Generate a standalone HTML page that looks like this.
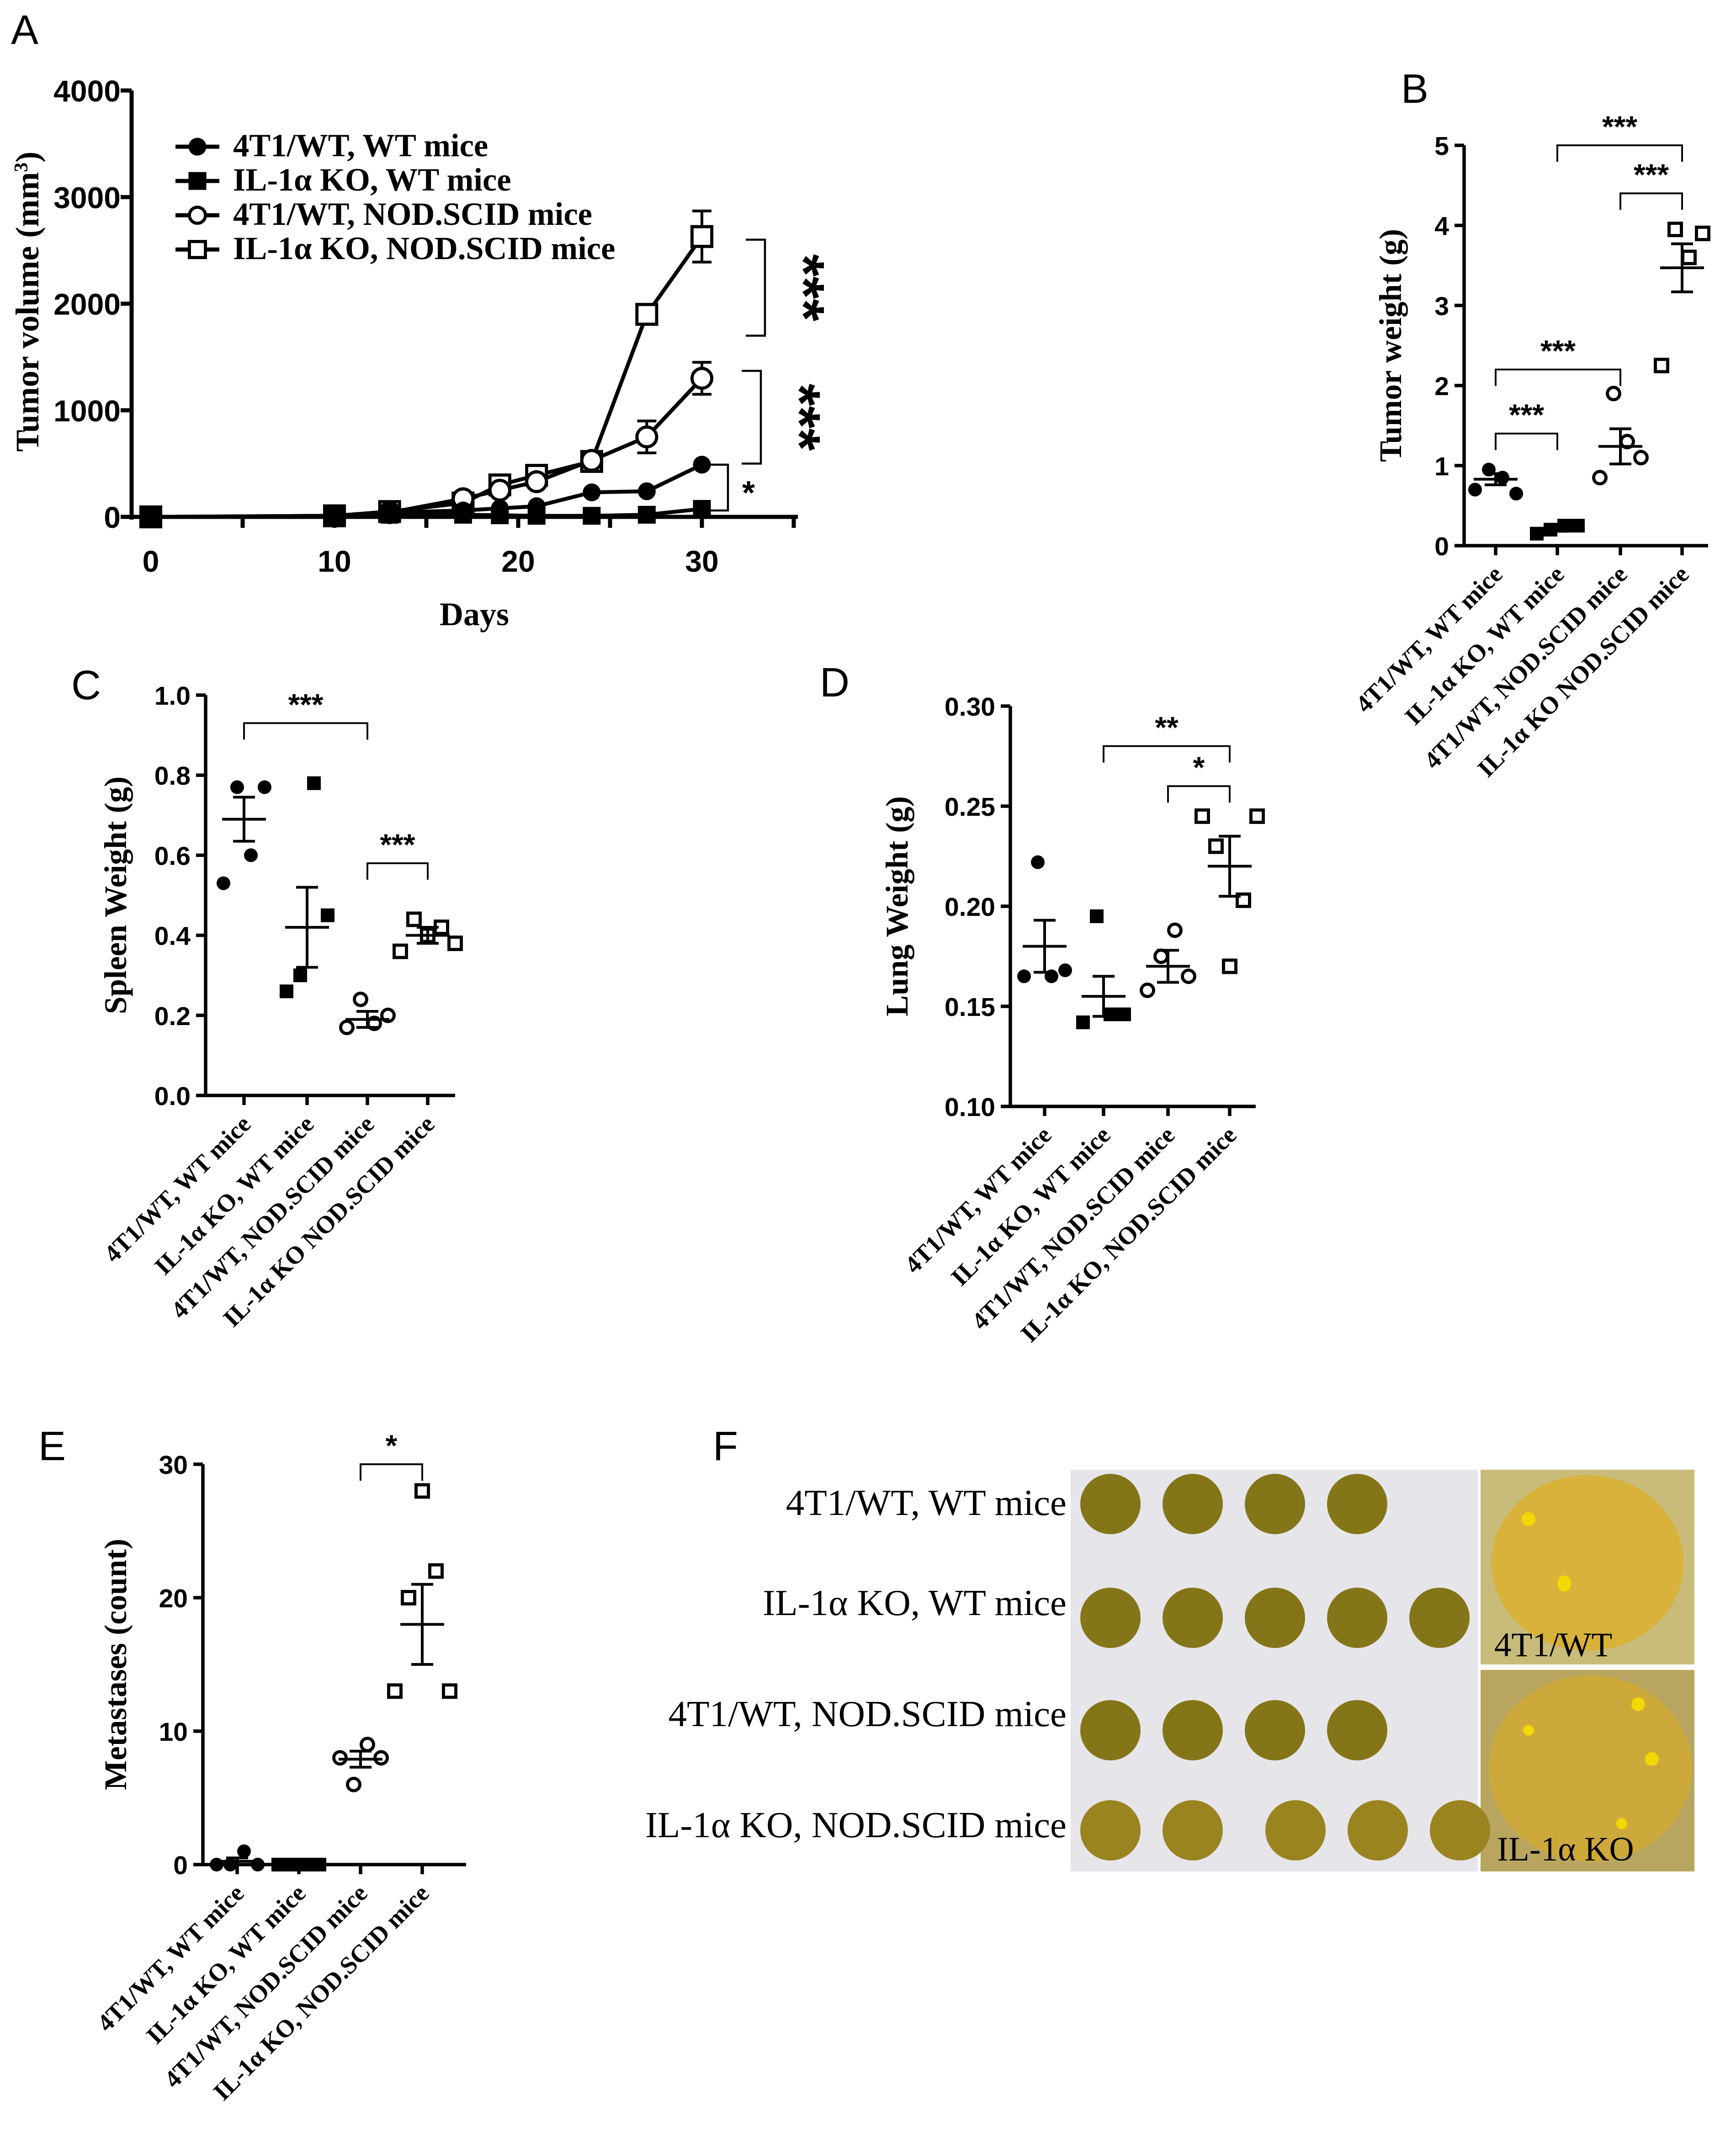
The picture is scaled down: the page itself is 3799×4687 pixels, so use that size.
<!DOCTYPE html>
<html><head><meta charset="utf-8">
<style>
html,body{margin:0;padding:0;background:#fff;}
svg{display:block;}
.tk{font-family:"Liberation Sans",sans-serif;font-weight:bold;fill:#000;}
.lb{font-family:"Liberation Serif",serif;font-weight:bold;fill:#000;}
.pl{font-family:"Liberation Sans",sans-serif;font-size:30px;fill:#000;}
.cat{font-family:"Liberation Serif",serif;font-weight:bold;font-size:18px;fill:#000;}
.st{font-family:"Liberation Sans",sans-serif;font-weight:bold;fill:#000;}
.fl{font-family:"Liberation Serif",serif;fill:#000;}
</style></head>
<body>
<svg id="fig" width="3799" height="4687" viewBox="0 0 1266.33 1562.33" xmlns="http://www.w3.org/2000/svg">
<rect width="1266.33" height="1562.33" fill="#fff"/>
<text class="pl" x="8" y="32">A</text>
<text class="pl" x="1022" y="75">B</text>
<text class="pl" x="52" y="510">C</text>
<text class="pl" x="598" y="508">D</text>
<text class="pl" x="28" y="1065">E</text>
<text class="pl" x="520" y="1065">F</text>
<g id="gA"></g>
<g id="gB"></g>
<g id="gC"></g>
<g id="gD"></g>
<g id="gE"></g>
<g id="gF">
  <text class="fl" style="font-size:27px" x="778" y="1105" text-anchor="end">4T1/WT, WT mice</text>
  <text class="fl" style="font-size:27px" x="778" y="1178" text-anchor="end">IL-1α KO, WT mice</text>
  <text class="fl" style="font-size:27px" x="778" y="1259" text-anchor="end">4T1/WT, NOD.SCID mice</text>
  <text class="fl" style="font-size:27px" x="778" y="1340" text-anchor="end">IL-1α KO, NOD.SCID mice</text>
  <rect x="781" y="1072" width="297" height="293" fill="#e6e6ea"/>
  <rect x="1080" y="1072" width="156" height="142" fill="#c9bb7a"/>
  <ellipse cx="1158" cy="1140" rx="70" ry="64" fill="#d8b23a"/>
  <ellipse cx="1115" cy="1108" rx="5" ry="5" fill="#f3d800"/>
  <ellipse cx="1141" cy="1155" rx="5" ry="6" fill="#f3d800"/>
  <text class="fl" style="font-size:25px" x="1090" y="1208">4T1/WT</text>
  <rect x="1080" y="1218" width="156" height="147" fill="#b8a660"/>
  <ellipse cx="1160" cy="1290" rx="74" ry="68" fill="#cda93c"/>
  <circle cx="1195" cy="1243" r="5" fill="#f3d800"/><circle cx="1115" cy="1262" r="4" fill="#f3d800"/><circle cx="1205" cy="1283" r="5" fill="#f3d800"/><circle cx="1183" cy="1330" r="4" fill="#f3d800"/>
  <text class="fl" style="font-size:25px" x="1092" y="1357">IL-1α KO</text>
  <g id="lungs"></g>
</g>
</svg>
<script>
// ---------- Panel A data ----------
const daysA = [0,10,13,17,19,21,24,27,30];
const wtWT = [0,10,40,60,80,100,230,240,490];
const koWT = [0,5,20,20,15,10,10,20,75];
const wtNOD = [0,10,40,170,250,330,530,750,1300];
const koNOD = [0,10,50,130,300,390,520,1900,2630];
const errNOD = [0,0,0,0,0,0,0,150,150];
const errKONOD = [0,0,0,0,0,0,0,0,240];
const yTicksA = [0,1000,2000,3000,4000];
const xTicksA = [0,10,20,30];
const legendA = ["4T1/WT, WT mice","IL-1α KO, WT mice","4T1/WT, NOD.SCID mice","IL-1α KO, NOD.SCID mice"];

// ---------- Scatter panels data ----------
const cats = ["4T1/WT, WT mice","IL-1α KO, WT mice","4T1/WT, NOD.SCID mice","IL-1α KO NOD.SCID mice"];
const catsD = ["4T1/WT, WT mice","IL-1α KO, WT mice","4T1/WT, NOD.SCID mice","IL-1α KO, NOD.SCID mice"];
const tumorW = [[0.7,0.95,0.85,0.65],[0.15,0.2,0.25,0.25],[0.85,1.9,1.3,1.1],[2.25,3.95,3.6,3.9]];
const tumorMean = [0.83,0.21,1.24,3.47];
const tumorSem = [0.07,0.03,0.22,0.3];
const spleenW = [[0.53,0.77,0.6,0.77],[0.26,0.3,0.78,0.45],[0.17,0.24,0.18,0.2],[0.36,0.44,0.4,0.42,0.38]];
const spleenMean = [0.69,0.42,0.19,0.40];
const spleenSem = [0.055,0.1,0.02,0.02];
const lungW = [[0.165,0.222,0.165,0.168],[0.142,0.195,0.146,0.146],[0.158,0.175,0.188,0.165],[0.245,0.23,0.17,0.203,0.245]];
const lungMean = [0.18,0.155,0.17,0.22];
const lungSem = [0.013,0.01,0.008,0.015];
const metsN = [[0,0,1,0],[0,0,0,0],[8,6,9,8],[13,20,28,22,13]];
const metsMean = [0.25,0,7.9,18];
const metsSem = [0.25,0,0.6,3];

const NS = "http://www.w3.org/2000/svg";
function el(tag, attrs, parent){const e=document.createElementNS(NS,tag);for(const k in attrs){if(k==='font-size')e.style.fontSize=attrs[k]+'px';else e.setAttribute(k,attrs[k]);}parent.appendChild(e);return e;}
function marker(g,type,x,y,s){
  let m;
  if(type===0){m=el('circle',{cx:x,cy:y,r:5*s,fill:'#000'},g);}
  else if(type===1){m=el('rect',{x:x-5*s,y:y-5*s,width:10*s,height:10*s,fill:'#000'},g);}
  else if(type===2){m=el('circle',{cx:x,cy:y,r:4.5*s,fill:'#fff',stroke:'#000','stroke-width':2.3},g);}
  else {m=el('rect',{x:x-4.5*s,y:y-4.5*s,width:9*s,height:9*s,fill:'#fff',stroke:'#000','stroke-width':2.3},g);}
  return m;
}

// ---------- Panel A ----------
(function(){
  const g=document.getElementById('gA');
  const X0=96,X1=582,Y0=377,Y1=66;
  const xs=d=>110+d*13.4, ys=v=>Y0-(v/4000)*(Y0-Y1);
  let ax=el('line',{x1:X0,y1:Y0,x2:X1,y2:Y0,stroke:'#000','stroke-width':3},g);
  
  let ay=el('line',{x1:X0,y1:Y0+2,x2:X0,y2:Y1,stroke:'#000','stroke-width':3},g);
  
  yTicksA.forEach(v=>{el('line',{x1:X0-8,y1:ys(v),x2:X0,y2:ys(v),stroke:'#000','stroke-width':3},g);
    const t=el('text',{x:X0-8,y:ys(v)+8,'text-anchor':'end',class:'tk','font-size':22},g);t.textContent=v;
    });
  for(let d=0;d<=35;d+=5){el('line',{x1:xs(d),y1:Y0,x2:xs(d),y2:Y0+8,stroke:'#000','stroke-width':3},g);}
  xTicksA.forEach(d=>{const t=el('text',{x:xs(d),y:Y0+40,'text-anchor':'middle',class:'tk','font-size':22},g);t.textContent=d;
    });
  const xl=el('text',{x:346,y:456,'text-anchor':'middle',class:'lb','font-size':24},g);xl.textContent='Days';
  
  const yl=el('text',{x:0,y:0,'text-anchor':'middle',class:'lb','font-size':24,transform:'translate(28,220) rotate(-90)'},g);
  yl.innerHTML='Tumor volume (mm<tspan dy="-8" style="font-size:14px">3</tspan><tspan dy="8">)</tspan>';
  
  const series=[wtWT,koWT,wtNOD,koNOD];
  const errs=[null,null,errNOD,errKONOD];
  [3,2,0,1].forEach(si=>{
    const vals=series[si];
    const p=el('polyline',{points:vals.map((v,i)=>xs(daysA[i])+','+ys(v)).join(' '),fill:'none',stroke:'#000','stroke-width':2.8},g);
    
    if(errs[si]) errs[si].forEach((e,i)=>{if(e>0){const x=xs(daysA[i]);
      el('line',{x1:x,y1:ys(vals[i]+e),x2:x,y2:ys(vals[i]-e),stroke:'#000','stroke-width':2},g);
      el('line',{x1:x-7,y1:ys(vals[i]+e),x2:x+7,y2:ys(vals[i]+e),stroke:'#000','stroke-width':2},g);
      el('line',{x1:x-7,y1:ys(vals[i]-e),x2:x+7,y2:ys(vals[i]-e),stroke:'#000','stroke-width':2},g);}});
    vals.forEach((v,i)=>{const m=marker(g,si,xs(daysA[i]),ys(v),si>=2?1.6:1.3);
      });
  });
  legendA.forEach((s,i)=>{const y=107+i*25;
    el('line',{x1:128,y1:y,x2:160,y2:y,stroke:'#000','stroke-width':3},g);
    const m=marker(g,i,144,y,1.3);
    
    const t=el('text',{x:170,y:y+7,class:'lb','font-size':23.5},g);t.textContent=s;
    });
  function br(v1,v2,x,lab,rot){const b=el('polyline',{points:`${x-14},${ys(v1)} ${x},${ys(v1)} ${x},${ys(v2)} ${x-14},${ys(v2)}`,fill:'none',stroke:'#000','stroke-width':1.5},g);
    
    const t=el('text',{x:0,y:0,class:'st','font-size':rot?42:24,'text-anchor':'middle',transform:rot?`translate(${x+14},${(ys(v1)+ys(v2))/2}) rotate(90)`:`translate(${x+15},${(ys(v1)+ys(v2))/2+12})`},g);
    t.textContent=lab;}
  br(2600,1700,558,'***',true);
  br(1370,500,555,'***',true);
  br(490,60,531,'*',false);
})();

// ---------- Scatter panel builder ----------
function scatter(g,cfg){
  const {X0,X1,Y0,Y1,vmin,vmax,ticks,fmt,xs,data,mean,sem,title,titleX,labels,brackets}=cfg;
  const ys=v=>Y0-(v-vmin)/(vmax-vmin)*(Y0-Y1);
  const a1=el('line',{x1:X0,y1:Y0,x2:X1,y2:Y0,stroke:'#000','stroke-width':2.5},g);
  const a2=el('line',{x1:X0,y1:Y0+1,x2:X0,y2:Y1,stroke:'#000','stroke-width':2.5},g);
  ticks.forEach(v=>{el('line',{x1:X0-7,y1:ys(v),x2:X0,y2:ys(v),stroke:'#000','stroke-width':2.5},g);
    const t=el('text',{x:X0-11,y:ys(v)+7,'text-anchor':'end',class:'tk','font-size':19},g);t.textContent=fmt(v);
    });
  xs.forEach((x,i)=>{el('line',{x1:x,y1:Y0,x2:x,y2:Y0+7,stroke:'#000','stroke-width':2.5},g);
    const t=el('text',{x:0,y:0,'text-anchor':'end',class:'cat',transform:`translate(${x+6},${Y0+22}) rotate(-45)`},g);
    t.textContent=labels[i];});
  const yt=el('text',{x:0,y:0,'text-anchor':'middle',class:'lb','font-size':23,transform:`translate(${titleX},${(Y0+Y1)/2}) rotate(-90)`},g);
  yt.textContent=title;
  data.forEach((arr,gi)=>{const cx=xs[gi];
    arr.forEach((v,i)=>{const off=(i-(arr.length-1)/2)*10;const m=marker(g,gi,cx+off,ys(v),1);
      });
    const ml=el('line',{x1:cx-16,y1:ys(mean[gi]),x2:cx+16,y2:ys(mean[gi]),stroke:'#000','stroke-width':2},g);
    
    if(sem[gi]>0){el('line',{x1:cx,y1:ys(mean[gi]-sem[gi]),x2:cx,y2:ys(mean[gi]+sem[gi]),stroke:'#000','stroke-width':2},g);
      el('line',{x1:cx-8,y1:ys(mean[gi]+sem[gi]),x2:cx+8,y2:ys(mean[gi]+sem[gi]),stroke:'#000','stroke-width':2},g);
      el('line',{x1:cx-8,y1:ys(mean[gi]-sem[gi]),x2:cx+8,y2:ys(mean[gi]-sem[gi]),stroke:'#000','stroke-width':2},g);}
  });
  brackets.forEach(b=>{const y=ys(b[2]);
    const p=el('polyline',{points:`${xs[b[0]]},${y+12} ${xs[b[0]]},${y} ${xs[b[1]]},${y} ${xs[b[1]]},${y+12}`,fill:'none',stroke:'#000','stroke-width':1.3},g);
    
    const t=el('text',{x:(xs[b[0]]+xs[b[1]])/2,y:y-6,'text-anchor':'middle',class:'st','font-size':22},g);t.textContent=b[3];
    });
}
scatter(document.getElementById('gB'),{X0:1068,X1:1246,Y0:398,Y1:106,vmin:0,vmax:5,ticks:[0,1,2,3,4,5],fmt:v=>v,
  xs:[1091,1136,1182,1227],data:tumorW,mean:tumorMean,sem:tumorSem,title:'Tumor weight (g)',titleX:1022,labels:cats,
  brackets:[[0,1,1.4,'***'],[0,2,2.2,'***'],[2,3,4.4,'***'],[1,3,5.0,'***']]});
scatter(document.getElementById('gC'),{X0:150,X1:332,Y0:799,Y1:507,vmin:0,vmax:1,ticks:[0,0.2,0.4,0.6,0.8,1.0],fmt:v=>v.toFixed(1),
  xs:[178,224,268,312],data:spleenW,mean:spleenMean,sem:spleenSem,title:'Spleen Weight (g)',titleX:92,labels:cats,
  brackets:[[0,2,0.93,'***'],[2,3,0.58,'***']]});
scatter(document.getElementById('gD'),{X0:737,X1:916,Y0:807,Y1:515,vmin:0.1,vmax:0.3,ticks:[0.1,0.15,0.2,0.25,0.3],fmt:v=>v.toFixed(2),
  xs:[762,805,852,897],data:lungW,mean:lungMean,sem:lungSem,title:'Lung Weight (g)',titleX:662,labels:catsD,
  brackets:[[1,3,0.28,'**'],[2,3,0.26,'*']]});
scatter(document.getElementById('gE'),{X0:148,X1:340,Y0:1360,Y1:1068,vmin:0,vmax:30,ticks:[0,10,20,30],fmt:v=>v,
  xs:[173,218,263,308],data:metsN,mean:metsMean,sem:metsSem,title:'Metastases (count)',titleX:92,labels:catsD,
  brackets:[[2,3,30,'*']]});

// ---------- lungs (photo decoration) ----------
(function(){const g=document.getElementById('lungs');
  const rows=[[1097,4],[1180,5],[1262,4],[1335,5]];
  rows.forEach((r,ri)=>{for(let i=0;i<r[1];i++){const x=810+i*60+(ri===3&&i>1?15:0);
    const e=el('ellipse',{cx:x,cy:r[0],rx:22,ry:22,fill:ri===3?'#9a8420':'#857519'},g);
    }});
})();
</script>
</body></html>
